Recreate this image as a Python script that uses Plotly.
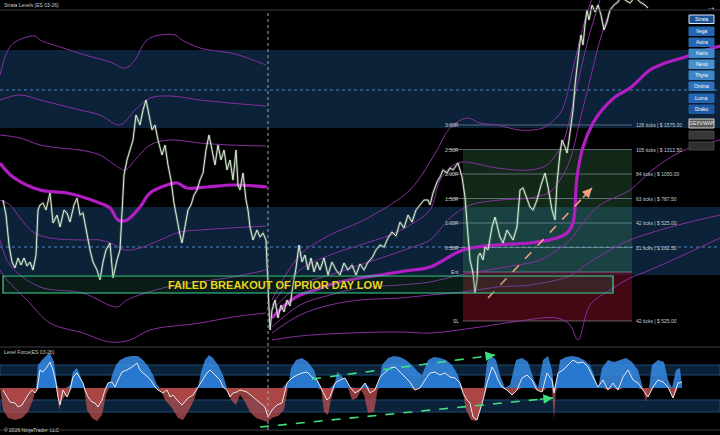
import numpy as np
import plotly.graph_objects as go

# ---------------- data (x = bar position, y = price level in chart units) ----------------
day1_x = [3,6,9,12,15,18,21,24,27,30,33,36,38,40,43,46,50,53,57,60,64,67,70,74,77,80,83,86,90,93,
          97,100,103,106,110,113,117,120,122,124,127,130,133,136,140,143,146,149,152,155,158,162,165,168,171,174,177,180,182,185,
          188,191,194,197,200,203,206,209,212,215,218,221,224,227,230,233,236,238,240,243,246,248,250,253,257,260,263,266]
day1_y = [145,130,100,83,77,87,80,87,79,83,75,90,135,140,142,135,152,122,130,118,135,132,123,140,147,130,132,115,95,83,
          75,65,83,95,102,67,85,95,140,170,185,195,205,230,220,235,245,230,215,220,205,190,200,180,165,142,125,110,102,118,
          135,140,150,155,165,172,195,210,195,180,200,185,195,175,185,165,195,160,155,172,145,135,118,105,115,108,112,105]
day2_x = [270,272,275,278,281,284,287,290,293,296,299,302,305,308,311,314,317,320,324,328,332,336,340,344,348,352,356,360,364,368,
          372,376,380,384,388,392,396,400,404,408,412,416,420,424,428,430,433,437,440,443,447,450,453,456,458,462,465,467,470,473,
          475,477,478,480,483,485,488,492,495,497,500,503,507,510,513,517,520,523,527,530,533,537,541,545,548,552,555,557,560,562,
          565,567,569,571,573,575,577,579,581,583,585,587,589,592,595,598,601,604,607,610,614,618,622,625,630,635,640,645,648]
day2_y = [15,35,45,27,40,33,45,39,60,77,100,83,90,75,87,73,83,75,87,70,83,75,70,82,75,80,70,81,75,83,
          87,95,100,98,107,113,109,123,117,130,123,135,140,145,145,140,152,163,168,175,172,177,175,180,182,168,148,122,85,72,
          52,65,88,92,85,98,95,118,128,120,108,102,115,110,105,118,155,157,145,138,135,145,160,172,158,135,125,162,192,205,
          198,192,205,220,235,260,280,295,310,300,320,335,325,340,333,340,330,315,323,335,340,343,350,345,342,348,343,340,337]

# VWAP (thick) per session
vwap1_x = [0,13,40,67,97,110,118,127,140,150,167,177,187,207,233,267]
vwap1_y = [182,168,155,152,143,137,125,125,138,152,160,162,157,158,160,158]
vwap2_x = [272,285,300,315,335,355,380,405,430,463,497,530,557,567,573,577,583,593,602,615,630,650,665,682,700,720]
vwap2_y = [27,40,50,55,62,66,70,74,78,95,100,102,107,112,122,168,198,222,235,248,257,275,282,287,293,299]

# deviation bands (thin) per session
bands = [
    ([0,8,15,35,40,60,85,110,125,135,145,155,175,182,200,235,266],
     [270,295,303,309,305,298,290,283,277,285,303,309,310,305,297,291,280]),
    ([0,20,40,60,80,100,120,135,150,170,200,230,266],
     [245,250,245,240,235,230,220,235,247,249,245,242,239]),
    ([0,20,40,60,80,100,115,125,135,150,170,200,230,266],
     [210,207,200,197,195,190,180,175,185,200,205,202,200,199]),
    ([0,10,20,33,50,83,100,115,125,140,160,180,200,230,266],
     [145,140,127,113,107,105,105,100,95,97,105,113,115,117,119]),
    ([0,10,40,83,117,127,167,233,266],
     [105,80,58,52,38,45,58,68,75]),
    ([0,7,27,50,83,110,130,150,200,233,266],
     [75,65,45,22,12,3,5,15,22,28,32]),
    ([272,300,330,360,390,410,425,437,450,467,480,497,520,543,557,563,575,585,595],
     [45,90,110,123,140,155,175,195,217,227,222,220,215,217,228,237,285,325,355]),
    ([272,300,330,360,390,410,430,440,452,463,497,530,547,557,563,575,588,600],
     [40,75,90,100,110,120,135,165,179,183,177,175,180,192,202,250,305,345]),
    ([272,300,330,360,390,410,430,450,470,500,530,550,560,570,580,590,600,610],
     [35,60,70,80,90,97,105,127,140,145,147,153,165,185,225,265,305,335]),
    ([272,300,330,360,400,430,460,500,540,557,570,585,600,630,650,680,720],
     [18,40,50,57,60,63,70,77,85,95,105,125,140,155,173,193,205]),
    ([272,300,330,360,400,430,463,497,530,557,570,590,610,630,660,690,720],
     [12,30,40,45,47,50,53,58,60,65,69,83,95,105,115,123,130]),
    ([272,300,350,400,430,480,513,557,570,578,590,610,630,650,690,720],
     [5,9,12,13,12,18,23,27,20,5,40,55,67,75,93,107]),
]

# strata zones / lines
strata_zones = [(217, 295), (70, 138)]
strata_lines = [255, 98]
session_break = 268

# fib / risk tool
fib_entry, fib_stop = 73, 24
fib_ratios = [0.5, 1.0, 1.5, 2.0, 2.5, 3.0]
fib_ticks = [21, 42, 63, 84, 105, 126]
stop_ticks = 42
tick_value = 12.5
target_ratio = 2.5
fib_x0, fib_x1 = 463, 632

# prior-day-low zone
pdl_x0, pdl_x1 = 3, 613
pdl_lo, pdl_hi = 52, 69

# drawn arrows
orange_arrow = ((488, 47), (592, 157))
force_arrows = [((312, 9), (495, 33)), ((260, -39), (553, -10))]

# Level Force oscillator
osc_x = [3,7,10,15,18,22,25,28,32,35,37,40,43,47,50,53,56,58,60,63,67,70,73,77,80,83,85,88,92,95,
         98,102,105,108,112,115,118,122,127,132,137,140,143,148,152,155,158,163,167,170,173,177,182,185,188,193,198,202,207,210,
         213,217,220,223,227,230,233,237,240,247,253,260,265,268,272,277,282,287,292,297,302,307,312,317,322,327,330,335,340,345,
         350,355,360,365,370,375,380,385,390,395,400,405,410,415,420,425,430,435,440,445,450,455,460,463,467,470,473,477,480,483,
         487,492,495,498,502,507,512,517,522,527,532,537,542,547,552,554,558,563,568,573,578,583,588,593,598,603,608,613,618,623,
         628,633,638,643,648,653,658,663,668,673,678,682]
osc_y = [-2,-9,-14,-15,-19,-17,-12,-7,-2,-5,-2,18,16,21,26,18,5,-9,-17,-2,-9,-2,11,15,10,5,-2,-9,-14,-15,
         -19,-12,-2,5,6,1,8,16,18,21,25,18,15,11,6,1,-2,-5,-2,-9,-7,-12,-17,-14,-10,-7,1,8,15,18,
         15,11,8,1,-2,-9,-5,-4,-2,-4,-9,-14,-19,-29,-22,-17,-15,5,10,13,15,16,11,8,-2,-12,-9,5,8,10,
         1,-5,-2,5,-5,-2,11,16,20,21,16,11,6,-2,0,8,15,16,13,15,11,10,5,-5,-12,-15,-29,-32,-22,-12,
         5,21,16,8,1,-2,-7,-2,10,13,8,-2,-4,15,8,-5,15,18,23,28,25,26,21,11,1,8,-2,5,-2,11,
         18,8,5,-2,-9,1,8,6,1,-10,5,6]
env_x = [0,3,8,15,22,28,33,36,38,42,47,50,54,57,59,62,66,70,73,77,81,84,87,92,97,102,106,109,112,116,
         120,126,132,138,143,148,153,157,160,165,172,178,183,188,194,198,201,205,209,213,218,223,227,231,236,240,244,250,256,262,
         267,272,278,284,288,291,296,302,308,314,319,321,324,328,331,334,337,341,345,348,352,357,361,364,368,374,378,382,388,394,
         400,406,412,418,422,428,434,440,446,452,458,462,466,471,476,480,484,487,491,496,500,505,510,516,522,528,534,538,543,548,
         552,554,556,560,566,572,578,584,590,594,598,602,608,614,620,626,632,638,643,646,649,652,658,664,668,672,676,680,682]
env_y = [0,-22,-30,-32,-30,-24,-12,0,23,28,33,35,26,3,-22,-12,-7,3,16,20,10,0,-22,-30,-33,-27,-7,0,13,23,
         28,31,32,32,28,22,13,3,0,-12,-20,-30,-32,-24,-12,0,16,28,33,30,23,13,0,-12,-17,-7,-12,-24,-30,-32,
         -34,-30,-28,-22,0,20,28,30,26,18,3,0,-24,-27,-12,0,16,13,8,0,-12,-10,-2,-7,-25,-24,0,23,30,32,
         31,28,23,16,13,28,31,30,28,23,13,0,-22,-32,-33,-24,0,26,33,28,13,0,3,28,30,26,8,0,28,32,
         18,-32,0,28,31,32,31,28,23,13,0,20,28,26,28,30,26,18,0,-14,0,23,28,26,8,0,18,20,0]
force_zones = [(13, 23), (-24, -12)]

buttons = ["Strata", "Vega", "Astra", "Kairo", "Nexo", "Thyra", "Omina", "Luma", "Drako"]
button_colors = ["#1b4f96", "#2466b4", "#2466b4", "#3f86c8", "#4a90cc", "#3f86c8", "#2f72bb", "#2466b4", "#1d5aa3"]

# ---------------- figure ----------------
W, H = 720, 435
PANE = 345  # price pane height in px
FONT = "Liberation Sans, Arial, sans-serif"

fig = go.Figure()

def py(p):
    return 1 - p / H

shapes = []
annotations = []

# strata zones + lines
for lo, hi in strata_zones:
    shapes.append(dict(type="rect", xref="x", yref="y", x0=0, x1=720, y0=lo, y1=hi,
                       fillcolor="#0b2238", line_width=0, layer="below"))
for lv in strata_lines:
    shapes.append(dict(type="line", xref="x", yref="y", x0=0, x1=720, y0=lv, y1=lv,
                       line=dict(color="#4f86c0", width=1, dash="dot"), layer="below"))

# fib boxes
risk = fib_entry - fib_stop
shapes.append(dict(type="rect", xref="x", yref="y", x0=fib_x0, x1=fib_x1, y0=fib_entry,
                   y1=fib_entry + target_ratio * risk, fillcolor="rgba(70,160,95,0.26)", line_width=0, layer="below"))
shapes.append(dict(type="rect", xref="x", yref="y", x0=fib_x0, x1=fib_x1, y0=fib_stop, y1=fib_entry,
                   fillcolor="rgba(120,15,35,0.55)", line_width=0, layer="below"))
levels = [fib_entry + r * risk for r in fib_ratios]
for r, t, lv in zip(fib_ratios, fib_ticks, levels):
    shapes.append(dict(type="line", xref="x", yref="y", x0=fib_x0 - 16, x1=fib_x1, y0=lv, y1=lv,
                       line=dict(color="rgba(170,185,200,0.5)", width=1), layer="below"))
    annotations.append(dict(x=fib_x0 - 2, y=lv, xref="x", yref="y", text=f"{r:.2f}R", showarrow=False,
                            xanchor="right", yanchor="middle", font=dict(size=5, color="#c8ccd0", family=FONT)))
    annotations.append(dict(x=fib_x1 + 2, y=lv, xref="x", yref="y", text=f"{t} ticks | $ {t*tick_value:.2f}",
                            showarrow=False, xanchor="left", yanchor="middle",
                            font=dict(size=5, color="#c8ccd0", family=FONT)))
for lv, lab in [(fib_entry, "Ent"), (fib_stop, "SL")]:
    shapes.append(dict(type="line", xref="x", yref="y", x0=fib_x0, x1=fib_x1, y0=lv, y1=lv,
                       line=dict(color="rgba(170,185,200,0.5)", width=1), layer="below"))
    annotations.append(dict(x=fib_x0 - 2, y=lv, xref="x", yref="y", text=lab, showarrow=False,
                            xanchor="right", yanchor="middle", font=dict(size=5, color="#c8ccd0", family=FONT)))
annotations.append(dict(x=fib_x1 + 2, y=fib_stop, xref="x", yref="y",
                        text=f"{stop_ticks} ticks | $ {stop_ticks*tick_value:.2f}", showarrow=False,
                        xanchor="left", yanchor="middle", font=dict(size=5, color="#c8ccd0", family=FONT)))

# prior day low box
shapes.append(dict(type="rect", xref="x", yref="y", x0=pdl_x0, x1=pdl_x1, y0=pdl_lo, y1=pdl_hi,
                   fillcolor="rgba(40,110,90,0.25)", line=dict(color="#3fd79a", width=1.2), layer="above"))
annotations.append(dict(x=275, y=(pdl_lo + pdl_hi) / 2, xref="x", yref="y",
                        text="<b>FAILED BREAKOUT OF PRIOR DAY LOW</b>", showarrow=False,
                        xanchor="center", yanchor="middle",
                        font=dict(size=11, color="#e8d41c", family=FONT)))

# lower pane zones
for lo, hi in force_zones:
    shapes.append(dict(type="rect", xref="x", yref="y2", x0=0, x1=720, y0=lo, y1=hi,
                       fillcolor="#0b2238", line=dict(color="#1d4a78", width=1), layer="below"))

# separators
for p in [10, 347, 430]:
    shapes.append(dict(type="line", xref="paper", yref="paper", x0=0, x1=1, y0=py(p), y1=py(p),
                       line=dict(color="#3a3f46", width=1)))
shapes.append(dict(type="line", xref="x", yref="paper", x0=session_break, x1=session_break, y0=py(430), y1=py(10),
                   line=dict(color="#9aa6b4", width=1, dash="dot")))

# bands
for bx, by in bands:
    fig.add_trace(go.Scatter(x=bx, y=by, mode="lines", line=dict(color="#85309e", width=1, shape="spline"),
                             hoverinfo="skip"))
# VWAP
for vx, vy in [(vwap1_x, vwap1_y), (vwap2_x, vwap2_y)]:
    fig.add_trace(go.Scatter(x=vx, y=vy, mode="lines", line=dict(color="#b21ec4", width=3.2, shape="spline"),
                             hoverinfo="skip"))
# price
px_all = day1_x + day2_x
py_all = day1_y + day2_y
fig.add_trace(go.Scatter(x=px_all, y=py_all, mode="lines", line=dict(color="rgba(215,235,205,0.25)", width=2.6),
                         hoverinfo="skip"))
fig.add_trace(go.Scatter(x=px_all, y=py_all, mode="lines", line=dict(color="#d8ecd2", width=1),
                         hoverinfo="skip"))

# orange arrow
(ox0, oy0), (ox1, oy1) = orange_arrow
fig.add_trace(go.Scatter(x=[ox0, ox1], y=[oy0, oy1], mode="lines",
                         line=dict(color="#f2a07b", width=1.6, dash="dash"), hoverinfo="skip"))
annotations.append(dict(x=ox1, y=oy1, ax=ox1 - 0.1 * (ox1 - ox0), ay=oy1 - 0.1 * (oy1 - oy0),
                        xref="x", yref="y", axref="x", ayref="y", text="", showarrow=True,
                        arrowhead=2, arrowsize=1.2, arrowwidth=1.6, arrowcolor="#f2a07b"))

# oscillator
env = np.array(env_y, dtype=float)
osc = np.array(osc_y, dtype=float)
fig.add_trace(go.Scatter(x=env_x, y=np.maximum(env, 0), mode="lines", line=dict(width=0),
                         fill="tozeroy", fillcolor="rgba(55,140,230,0.85)", yaxis="y2", hoverinfo="skip"))
fig.add_trace(go.Scatter(x=env_x, y=np.minimum(env, 0), mode="lines", line=dict(width=0),
                         fill="tozeroy", fillcolor="rgba(185,80,80,0.75)", yaxis="y2", hoverinfo="skip"))
fig.add_trace(go.Scatter(x=osc_x, y=np.maximum(osc, 0), mode="lines", line=dict(width=0),
                         fill="tozeroy", fillcolor="rgba(40,120,210,0.9)", yaxis="y2", hoverinfo="skip"))
fig.add_trace(go.Scatter(x=osc_x, y=np.minimum(osc, 0), mode="lines", line=dict(width=0),
                         fill="tozeroy", fillcolor="rgba(175,70,70,0.9)", yaxis="y2", hoverinfo="skip"))
fig.add_trace(go.Scatter(x=osc_x, y=osc_y, mode="lines", line=dict(color="#e8e8e8", width=1),
                         yaxis="y2", hoverinfo="skip"))

for (ax0, ay0), (ax1, ay1) in force_arrows:
    fig.add_trace(go.Scatter(x=[ax0, ax1], y=[ay0, ay1], mode="lines", yaxis="y2",
                             line=dict(color="#3ee07e", width=1.6, dash="dash"), hoverinfo="skip"))
    annotations.append(dict(x=ax1, y=ay1, ax=ax1 - 0.05 * (ax1 - ax0), ay=ay1 - 0.05 * (ay1 - ay0),
                            xref="x", yref="y2", axref="x", ayref="y2", text="", showarrow=True,
                            arrowhead=2, arrowsize=1.2, arrowwidth=1.6, arrowcolor="#3ee07e"))

# titles
annotations += [
    dict(x=2 / W, y=py(5), xref="paper", yref="paper", text="Strata Levels (ES 03-26)", showarrow=False,
         xanchor="left", yanchor="middle", font=dict(size=5, color="#c8c8c8", family=FONT)),
    dict(x=2 / W, y=py(352), xref="paper", yref="paper", text="Level Force(ES 03-26)", showarrow=False,
         xanchor="left", yanchor="middle", font=dict(size=5, color="#c8c8c8", family=FONT)),
    dict(x=2 / W, y=py(430), xref="paper", yref="paper", text="© 2026 NinjaTrader, LLC", showarrow=False,
         xanchor="left", yanchor="middle", font=dict(size=5, color="#c8c8c8", family=FONT)),
    dict(x=711 / W, y=py(6), xref="paper", yref="paper", text="→", showarrow=False,
         xanchor="center", yanchor="middle", font=dict(size=10, color="#e0e0e0", family=FONT)),
]

# side buttons
tops = [15, 27, 38, 49, 60, 71, 82, 94, 105]
for name, col, t in zip(buttons, button_colors, tops):
    shapes.append(dict(type="rect", xref="paper", yref="paper", x0=689 / W, x1=714 / W, y0=py(t + 8.5), y1=py(t),
                       fillcolor=col, line=dict(color="#d8e6f6" if name == "Strata" else col, width=1)))
    annotations.append(dict(x=701.5 / W, y=py(t + 4.3), xref="paper", yref="paper", text=name, showarrow=False,
                            xanchor="center", yanchor="middle",
                            font=dict(size=5, color="#ffffff", family=FONT)))
shapes.append(dict(type="rect", xref="paper", yref="paper", x0=689 / W, x1=714 / W, y0=py(128), y1=py(119),
                   fillcolor="#5a5a5a", line=dict(color="#d0d0d0", width=1)))
annotations.append(dict(x=701.5 / W, y=py(123.5), xref="paper", yref="paper", text="GEXVWAP", showarrow=False,
                        xanchor="center", yanchor="middle",
                        font=dict(size=5, color="#eeeeee", family=FONT)))
for t, c in [(131, "#383838"), (142, "#2e2e2e")]:
    shapes.append(dict(type="rect", xref="paper", yref="paper", x0=689 / W, x1=714 / W, y0=py(t + 8), y1=py(t),
                       fillcolor=c, line=dict(color="#444444", width=1)))

fig.update_layout(
    width=W, height=H, margin=dict(l=0, r=0, t=0, b=0),
    paper_bgcolor="#000000", plot_bgcolor="#000000", showlegend=False,
    xaxis=dict(range=[0, 720], visible=False, domain=[0, 1]),
    yaxis=dict(range=[0, PANE], visible=False, domain=[(H - PANE) / H, 1]),
    yaxis2=dict(range=[-47, 43], visible=False, domain=[0, (H - PANE) / H], anchor="x"),
    shapes=shapes, annotations=annotations,
)

fig.write_html("out.html", config={"displayModeBar": False},
               post_script="document.body.style.margin='0';document.body.style.background='#000';")
